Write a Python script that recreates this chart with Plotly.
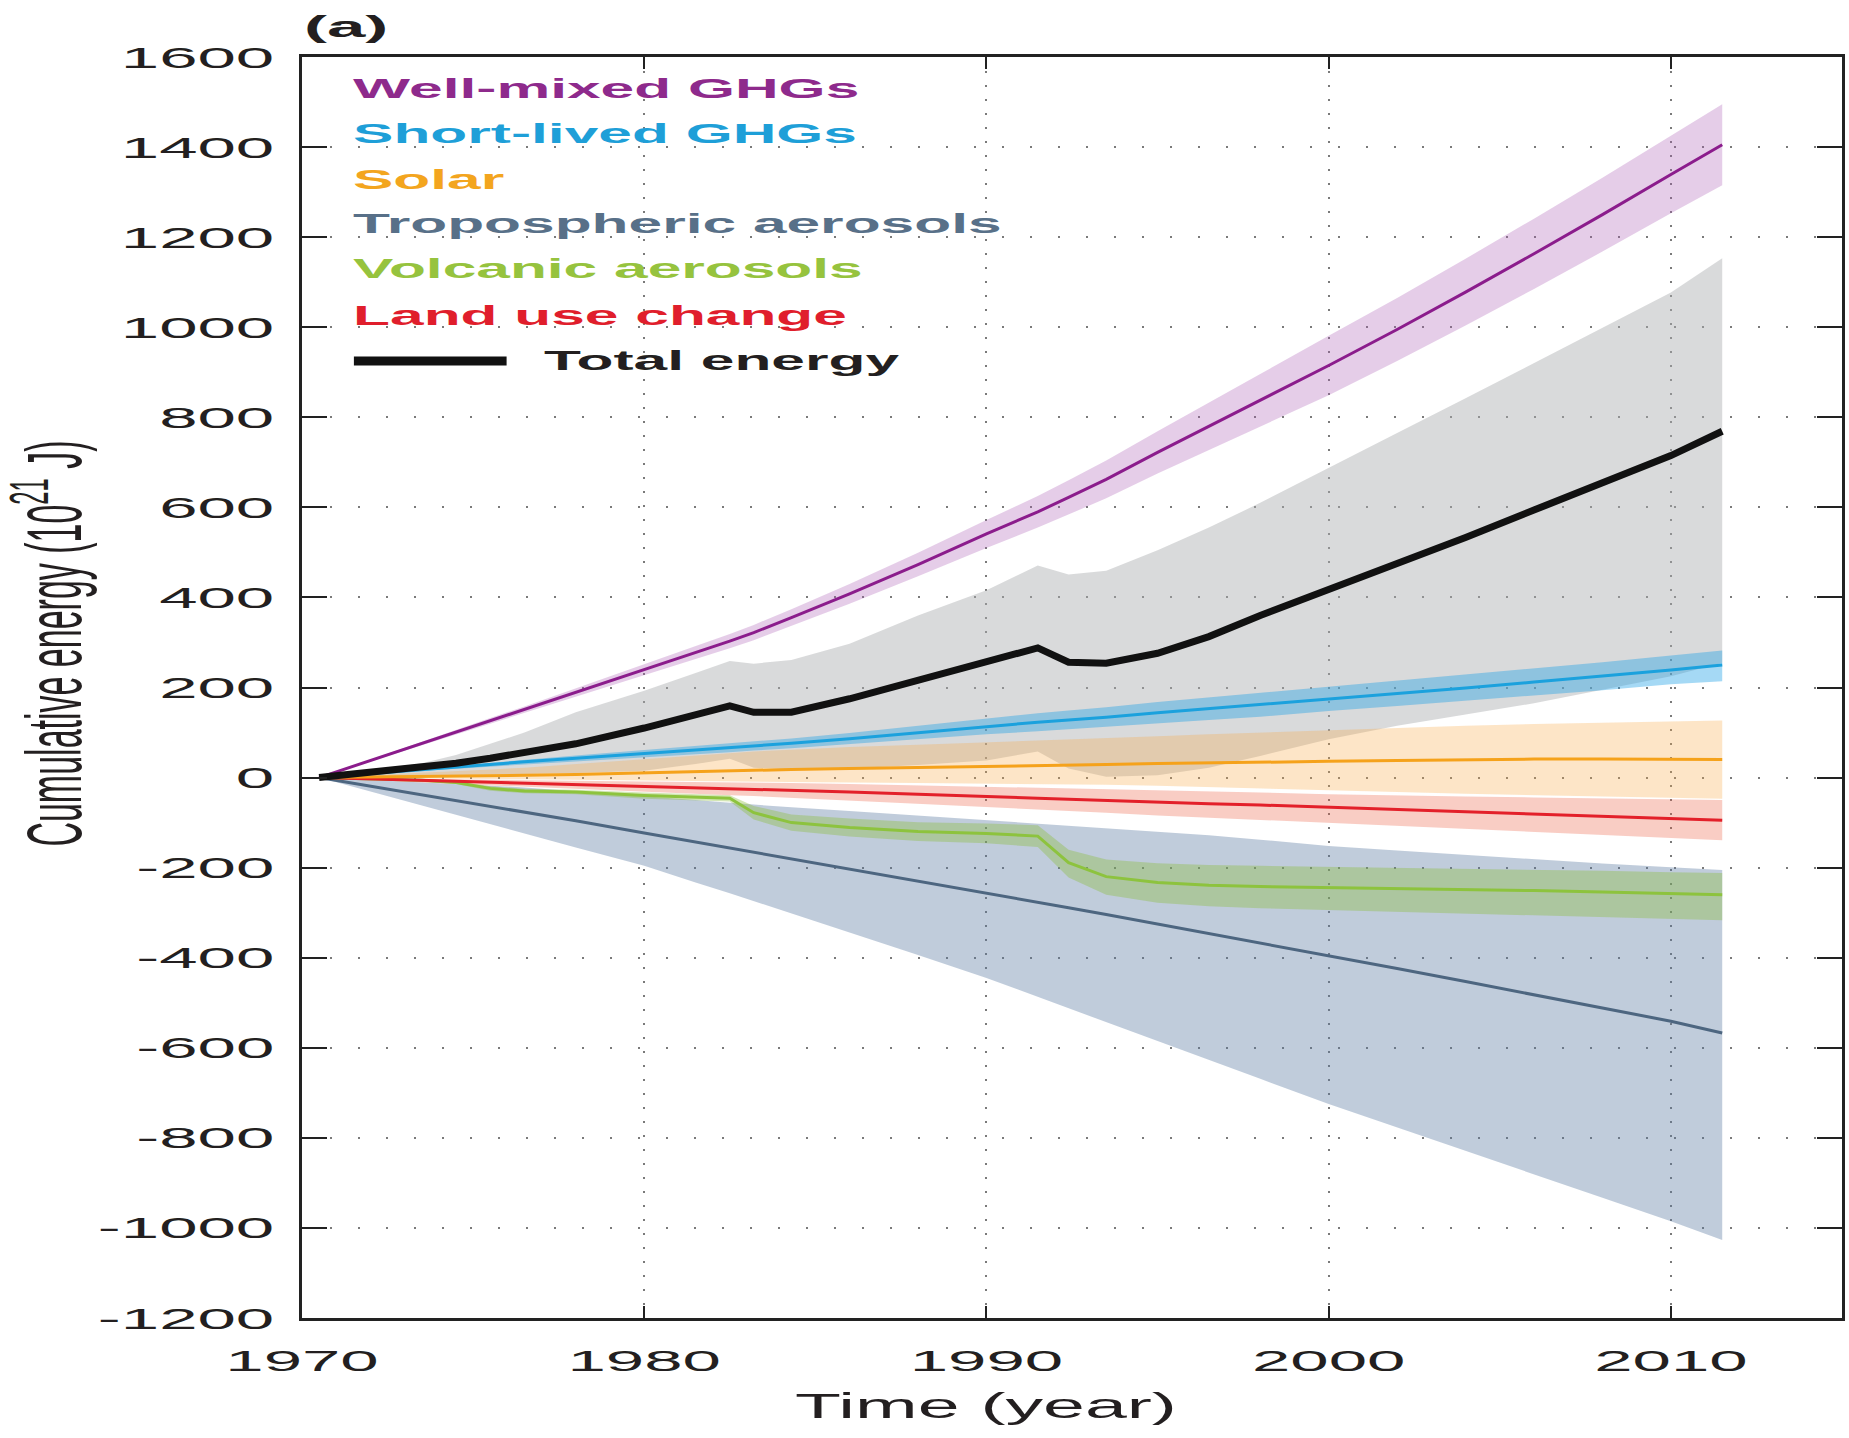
import plotly.graph_objects as go

# ---------------- data ----------------
years = [1970.5, 1972, 1973.5, 1974.5, 1975.5, 1976.5, 1978, 1980, 1981.5, 1982.5,
         1983.2, 1984.3, 1986, 1988, 1990, 1991.5, 1992.4, 1993.5, 1995, 1996.5,
         1998, 2000, 2002, 2004, 2006, 2008, 2010, 2011.5]

wmghg = [0, 38, 76, 101, 126, 151, 189, 240, 277, 303, 322, 355, 408, 473, 541,
         590, 622, 662, 722, 780, 838, 915, 995, 1078, 1163, 1250, 1339, 1405]
wmghg_hi = [0, 40, 80, 106, 132, 158, 198, 252, 291, 319, 339, 374, 430, 499, 572,
            625, 660, 704, 769, 832, 896, 981, 1065, 1152, 1241, 1332, 1425, 1495]
wmghg_lo = [0, 36, 72, 96, 120, 144, 180, 228, 263, 287, 305, 336, 386, 447, 510,
            555, 584, 620, 675, 728, 780, 849, 925, 1004, 1085, 1168, 1253, 1315]

total = [0, 11, 22, 32, 43, 56, 75, 110, 140, 159, 145, 145, 175, 215, 258,
         288, 256, 254, 276, 313, 360, 417, 476, 533, 594, 653, 715, 769]
total_hi = [0, 16, 32, 50, 75, 100, 145, 193, 232, 259, 253, 261, 297, 360, 416,
            471, 451, 459, 505, 555, 610, 688, 765, 842, 920, 998, 1077, 1153]
total_lo = [0, 2, 4, 5, 6, 8, 10, 15, 30, 42, 22, 18, 20, 28, 38,
            58, 20, 2, 5, 22, 48, 85, 115, 140, 165, 195, 225, 255]

slghg = [0, 9, 17, 23, 29, 35, 43, 53, 61, 66, 70, 76, 86, 100, 114,
         123, 128, 134, 144, 153, 162, 175, 187, 199, 212, 225, 239, 250]
slghg_hi = [0, 10, 19, 26, 33, 40, 49, 61, 70, 76, 80, 87, 99, 115, 132,
            143, 149, 156, 168, 178, 189, 202, 215, 228, 242, 256, 271, 282]
slghg_lo = [0, 8, 15, 20, 25, 30, 37, 45, 52, 56, 60, 65, 73, 85, 96,
            103, 107, 112, 120, 128, 135, 148, 159, 170, 182, 194, 207, 214]

solar = [0, 1, 2, 3, 4, 5, 7, 11, 14, 16, 17, 18, 20, 22, 25,
         27, 28, 29, 31, 32, 34, 36, 38, 40, 41, 41, 40, 40]
solar_hi = [0, 5, 10, 14, 18, 22, 30, 42, 50, 55, 58, 62, 68, 73, 78,
            82, 84, 87, 92, 96, 100, 105, 110, 115, 119, 122, 125, 127]
solar_lo = [0, -1, -2, -3, -3, -4, -5, -7, -8, -9, -9, -10, -11, -12, -13,
            -14, -15, -16, -18, -20, -23, -28, -32, -36, -39, -42, -45, -47]

tropo = [0, -19, -38, -51, -63, -76, -96, -123, -143, -156, -166, -180, -203, -229, -256,
         -277, -289, -304, -325, -346, -367, -396, -424, -453, -482, -511, -541, -567]
tropo_hi = [0, -5, -10, -14, -18, -22, -30, -42, -50, -56, -60, -66, -74, -84, -95,
            -102, -106, -112, -120, -128, -138, -152, -162, -172, -182, -191, -199, -205]
tropo_lo = [0, -31, -62, -82, -103, -124, -155, -196, -233, -257, -274, -301, -344, -394, -445,
            -487, -512, -543, -585, -627, -669, -725, -777, -829, -881, -933, -985, -1027]

volc = [0, -3, -6, -11, -24, -30, -32, -40, -43, -46, -78, -100, -111, -120, -124,
        -130, -189, -220, -233, -239, -242, -244, -246, -248, -251, -254, -257, -260]
volc_hi = [0, -2, -4, -8, -19, -25, -27, -33, -36, -39, -63, -82, -91, -99, -102,
           -106, -160, -182, -190, -194, -196, -198, -200, -202, -204, -207, -210, -212]
volc_lo = [0, -4, -8, -14, -29, -35, -37, -47, -50, -53, -93, -118, -131, -141, -146,
           -154, -222, -260, -278, -286, -290, -295, -298, -302, -306, -310, -314, -317]

landuse = [0, -3, -7, -9, -11, -13, -16, -20, -23, -25, -26, -28, -32, -37, -43,
           -46, -48, -51, -55, -58, -61, -66, -70, -75, -80, -85, -90, -95]
landuse_hi = [0, -1, -3, -4, -5, -6, -7, -9, -10, -11, -11, -12, -14, -17, -20,
              -22, -23, -25, -28, -30, -33, -37, -40, -42, -44, -46, -48, -50]
landuse_lo = [0, -5, -11, -14, -17, -20, -25, -31, -36, -39, -41, -44, -50, -58, -66,
              -71, -74, -78, -84, -89, -94, -101, -107, -114, -121, -128, -134, -139]

series_names = ["Well-mixed GHGs", "Short-lived GHGs", "Solar",
                "Tropospheric aerosols", "Volcanic aerosols", "Land use change"]
total_name = "Total energy"

x_tick_vals = [1970, 1980, 1990, 2000, 2010]
x_tick_text = ["1970", "1980", "1990", "2000", "2010"]
y_tick_vals = [1600, 1400, 1200, 1000, 800, 600, 400, 200, 0,
               -200, -400, -600, -800, -1000, -1200]
y_tick_text = ["1600", "1400", "1200", "1000", "800", "600", "400", "200", "0",
               "-200", "-400", "-600", "-800", "-1000", "-1200"]

# ---------------- styling ----------------
W, H = 1849, 1438
ML, MR, MT, MB = 302, 4, 57, 120
PW, PH = W - ML - MR, H - MT - MB

FONT = "Liberation Sans, Arial, Helvetica, sans-serif"
INK = "#231F20"

line_cols = {
    "wmghg": "#8B1C8C", "slghg": "#1BA1DD", "solar": "#F5A21B",
    "tropo": "#4D6680", "volc": "#8DC33E", "landuse": "#E3202A",
}
legend_cols = ["#8E2A8C", "#1E9FD8", "#F3A51E", "#587088", "#96C33E", "#E01E2C"]
band_cols = {
    "tropo": "rgba(90,120,160,0.38)",
    "total": "rgba(170,172,176,0.45)",
    "wmghg": "rgba(170,90,180,0.30)",
    "slghg": "rgba(30,160,230,0.40)",
    "solar": "rgba(250,170,70,0.30)",
    "landuse": "rgba(235,90,60,0.30)",
    "volc": "rgba(140,190,60,0.38)",
}

fig = go.Figure()


def band(hi, lo, color, name):
    fig.add_trace(go.Scatter(
        x=years + years[::-1], y=hi + lo[::-1], fill="toself", fillcolor=color,
        mode="lines", line=dict(width=0), hoverinfo="skip", showlegend=False,
        name=name + " range"))


def line(vals, color, width, name):
    fig.add_trace(go.Scatter(x=years, y=vals, mode="lines",
                             line=dict(color=color, width=width),
                             showlegend=False, name=name))


band(tropo_hi, tropo_lo, band_cols["tropo"], series_names[3])
band(total_hi, total_lo, band_cols["total"], total_name)
band(wmghg_hi, wmghg_lo, band_cols["wmghg"], series_names[0])
band(slghg_hi, slghg_lo, band_cols["slghg"], series_names[1])
band(solar_hi, solar_lo, band_cols["solar"], series_names[2])
band(landuse_hi, landuse_lo, band_cols["landuse"], series_names[5])
band(volc_hi, volc_lo, band_cols["volc"], series_names[4])

line(tropo, line_cols["tropo"], 3, series_names[3])
line(volc, line_cols["volc"], 3, series_names[4])
line(landuse, line_cols["landuse"], 3, series_names[5])
line(solar, line_cols["solar"], 3, series_names[2])
line(slghg, line_cols["slghg"], 3, series_names[1])
line(wmghg, line_cols["wmghg"], 3, series_names[0])
line(total, "#111111", 7, total_name)

# legend (coloured text, as in the reference)
leg_y_px = [88, 133, 179, 224, 269, 315]
annotations = []
for name, col, ypx in zip(series_names, legend_cols, leg_y_px):
    annotations.append(dict(
        text="<b>%s</b>" % name, xref="paper", yref="paper",
        x=(351 - ML) / PW, y=(MT + PH - ypx) / PH, xanchor="left", yanchor="middle",
        showarrow=False, font=dict(family=FONT, size=28, color=col)))
annotations.append(dict(
    text="<b>%s</b>" % total_name, xref="paper", yref="paper",
    x=(542 - ML) / PW, y=(MT + PH - 360) / PH, xanchor="left", yanchor="middle",
    showarrow=False, font=dict(family=FONT, size=28, color=INK)))
shapes = [dict(type="line", xref="paper", yref="paper",
               x0=(354 - ML) / PW, x1=(507 - ML) / PW,
               y0=(MT + PH - 361) / PH, y1=(MT + PH - 361) / PH,
               line=dict(color="#111111", width=9))]

axis_common = dict(
    showline=True, linewidth=2.5, linecolor="#222222", mirror="ticks",
    ticks="inside", tickwidth=2, tickcolor="#222222",
    showgrid=True, gridcolor="#7a7a7a", gridwidth=1.5, zeroline=False,
    tickfont=dict(family=FONT, size=30, color=INK),
)

fig.update_layout(
    width=W, height=H,
    margin=dict(l=ML, r=MR, t=MT, b=MB),
    paper_bgcolor="white", plot_bgcolor="white",
    showlegend=False,
    title=dict(text="<b>(a)</b>", xref="paper", x=0.0013, xanchor="left",
               yref="container", y=1 - 27 / H, yanchor="middle",
               font=dict(family=FONT, size=30, color=INK)),
    xaxis=dict(axis_common, range=[1970, 2015], tickvals=x_tick_vals, ticktext=x_tick_text,
               ticklen=12, griddash="2px,12px", ticklabelstandoff=14,
               title=dict(text="Time (year)", standoff=18,
                          font=dict(family=FONT, size=35, color=INK))),
    yaxis=dict(axis_common, range=[-1200, 1600], tickvals=y_tick_vals, ticktext=y_tick_text,
               ticklen=25, griddash="2px,26px", ticklabelstandoff=19,
               title=dict(text="Cumulative energy (10<sup>21</sup> J)", standoff=125,
                          font=dict(family=FONT, size=34, color=INK))),
    annotations=annotations, shapes=shapes,
)

# The reference artwork is horizontally stretched; widen the glyphs the same way.
post_js = """
document.body.style.margin = '0';
document.body.style.overflow = 'hidden';
var gd = document.getElementById('{plot_id}');
function stretch(sel, sx, sy, anchor, dx, dy) {
  var els = gd.querySelectorAll(sel);
  for (var i = 0; i < els.length; i++) {
    var el = els[i];
    var b = el.getBBox();
    var px = anchor === 'start' ? b.x : (anchor === 'end' ? b.x + b.width : b.x + b.width / 2);
    var py = b.y + b.height / 2;
    var t = el.getAttribute('transform') || '';
    el.setAttribute('transform', t + ' translate(' + (dx || 0) + ',' + (dy || 0) + ')' +
      ' translate(' + px + ',' + py + ') scale(' + sx + ',' + sy + ') translate(' + (-px) + ',' + (-py) + ')');
  }
}
stretch('.ytick text', 2.3, 1, 'end');
stretch('.xtick text', 2.3, 1, 'middle');
stretch('.g-xtitle text', 2.15, 1, 'middle', -86, 0);
stretch('.g-ytitle text', 1, 2.3, 'middle', 44, 0);
stretch('.annotation-text', 2.16, 1, 'start');
stretch('.gtitle', 2.3, 1, 'start');
"""

fig.write_html("out.html", post_script=post_js, config={"displayModeBar": False})
